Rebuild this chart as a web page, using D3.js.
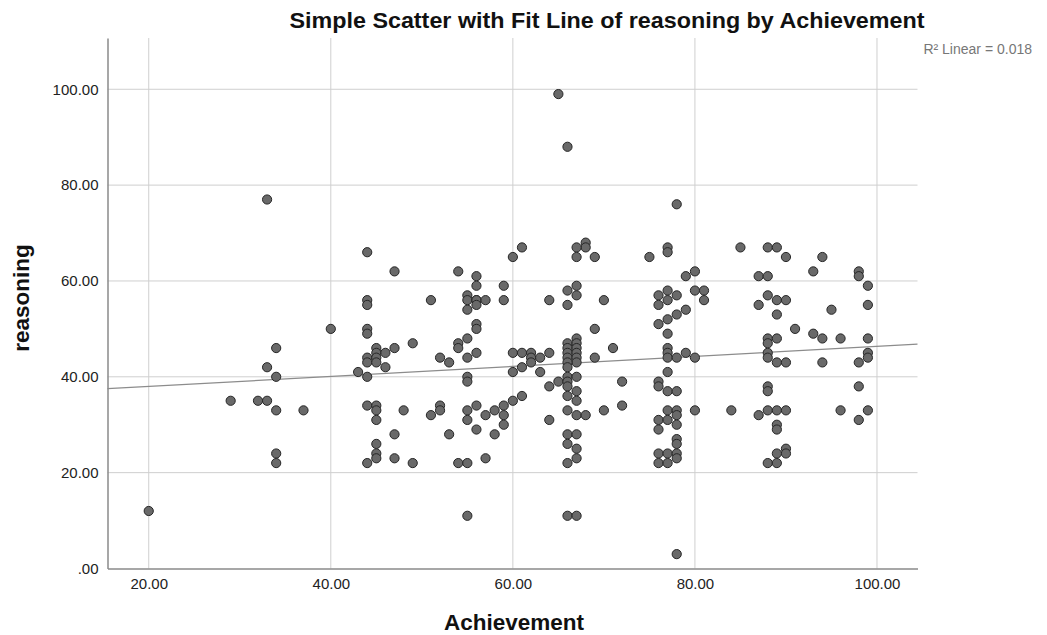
<!DOCTYPE html>
<html>
<head>
<meta charset="utf-8">
<script src="https://cdn.jsdelivr.net/npm/d3@7"></script>
<style>
  body { margin: 0; background: #fff; }
  svg { font-family: "Liberation Sans", Arial, sans-serif; }
</style>
</head>
<body>
<div class="scatter_chart"></div>
<script>
// values: [achievement, reasoning]
var points = [
  [20,12],[33,77],[40,50],[34,46],[33,42],[34,40],[29,35],[32,35],[33,35],[34,33],[37,33],[34,24],[34,22],
  [44,66],[47,62],[54,62],[44,56],[44,55],[51,56],[44,50],[44,49],[49,47],[54,47],[54,46],[45,46],[45,45],
  [47,46],[46,45],[44,44],[44,43],[45,44],[45,43],[52,44],[53,43],[46,42],[43,41],[44,40],[44,34],[45,34],
  [45,33],[48,33],[52,34],[52,33],[51,32],[45,31],[47,28],[53,28],[45,26],[45,24],[45,23],[44,22],[47,23],
  [49,22],[54,22],
  [61,67],[60,65],[56,61],[56,59],[59,59],[55,57],[55,56],[56,56],[56,56],[57,56],[59,56],[55,54],[56,55],
  [64,56],[56,51],[56,50],[55,48],[56,45],[55,44],[60,45],[61,45],[62,45],[64,45],[62,44],[63,44],[61,42],
  [62,43],[60,41],[63,41],[55,40],[55,39],[64,38],[65,39],[61,36],[60,35],[59,34],[58,33],[57,32],[56,34],
  [55,33],[59,32],[55,31],[59,30],[64,31],[56,29],[58,28],[57,23],[55,22],[55,11],
  [68,68],[68,67],[67,67],[67,65],[69,65],[75,65],[67,59],[66,58],[67,57],[66,55],[70,56],[69,50],[67,48],
  [66,47],[67,47],[66,46],[67,46],[66,45],[67,45],[66,44],[67,44],[71,46],[69,44],[67,43],[66,43],[66,42],
  [66,40],[67,40],[66,39],[66,38],[67,37],[66,36],[67,35],[72,39],[66,33],[67,32],[68,32],[70,33],[72,34],
  [66,28],[67,28],[66,26],[67,25],[67,23],[66,22],[66,11],[67,11],[65,99],[66,88],
  [77,67],[77,66],[85,67],[79,61],[80,62],[87,61],[88,61],[76,57],[77,58],[78,57],[76,55],[77,56],[80,58],
  [81,58],[81,56],[87,55],[79,54],[78,53],[77,52],[76,51],[77,49],[77,46],[77,45],[77,44],[78,44],[79,45],
  [80,44],[77,41],[76,39],[76,38],[77,37],[78,37],[77,33],[78,33],[78,32],[80,33],[84,33],[87,32],[76,31],
  [77,31],[78,30],[76,29],[78,27],[78,26],[76,24],[77,24],[78,24],[76,22],[77,22],[78,23],[78,3],[78,76],
  [88,67],[89,67],[90,65],[94,65],[93,62],[98,62],[98,61],[99,59],[88,57],[89,56],[90,56],[89,53],[95,54],
  [99,55],[91,50],[93,49],[94,48],[96,48],[99,48],[88,48],[88,47],[89,48],[88,45],[88,44],[89,43],[90,43],
  [94,43],[98,43],[99,45],[99,44],[88,38],[88,37],[98,38],[88,33],[89,33],[90,33],[96,33],[99,33],[98,31],
  [89,30],[89,29],[90,25],[90,24],[89,24],[88,22],[89,22]
];
var xTicks = [20, 40, 60, 80, 100];
var yTicks = [0, 20, 40, 60, 80, 100];
var xDomain = [15.47, 104.45];
var yDomain = [0, 110.7];
// linear fit
var fitIntercept = 35.9;
var fitSlope = 0.1045;
var r2Label = "R\u00b2 Linear = 0.018";
var titleText = "Simple Scatter with Fit Line of reasoning by Achievement";

function scatter_chart(data) {
  var W = 1047, H = 635;
  var left = 107.5, right = 917.5, top = 38, bottom = 568.5;

  var svg = d3.select(".scatter_chart")
    .append("svg")
    .attr("width", W)
    .attr("height", H);

  var x = d3.scaleLinear().domain(xDomain).range([left, right]);
  var y = d3.scaleLinear().domain(yDomain).range([bottom, top]);

  var fmt = function (d) {
    return d === 0 ? ".00" : d3.format(".2f")(d);
  };

  // grid lines
  svg.append("g")
    .selectAll("line")
    .data(yTicks.filter(function (d) { return d > 0; }))
    .enter()
    .append("line")
    .attr("x1", left).attr("x2", right)
    .attr("y1", function (d) { return y(d); })
    .attr("y2", function (d) { return y(d); })
    .style("stroke", "#cfcfcf")
    .style("stroke-width", "1px");

  svg.append("g")
    .selectAll("line")
    .data(xTicks)
    .enter()
    .append("line")
    .attr("y1", top).attr("y2", bottom)
    .attr("x1", function (d) { return x(d); })
    .attr("x2", function (d) { return x(d); })
    .style("stroke", "#cfcfcf")
    .style("stroke-width", "1px");

  // axes
  var xAxis = svg.append("g")
    .attr("transform", "translate(0," + bottom + ")")
    .call(d3.axisBottom(x).tickValues(xTicks).tickFormat(fmt).tickSize(0).tickPadding(10));
  var yAxis = svg.append("g")
    .attr("transform", "translate(" + left + ",0)")
    .call(d3.axisLeft(y).tickValues(yTicks).tickFormat(fmt).tickSize(0).tickPadding(9));

  [xAxis, yAxis].forEach(function (g) {
    g.select(".domain").style("stroke", "#8a8a8a").style("stroke-width", "1.5px");
    g.selectAll("text")
      .attr("font-size", "15px")
      .attr("font-family", "Liberation Sans, Arial, sans-serif")
      .attr("fill", "#222");
  });

  // fit line
  svg.append("line")
    .attr("x1", x(xDomain[0])).attr("y1", y(fitIntercept + fitSlope * xDomain[0]))
    .attr("x2", x(xDomain[1])).attr("y2", y(fitIntercept + fitSlope * xDomain[1]))
    .style("stroke", "#8c8c8c")
    .style("stroke-width", "1.2px");

  // dots
  svg.append("g")
    .selectAll("circle")
    .data(data)
    .enter()
    .append("circle")
    .attr("cx", function (d) { return x(d[0]); })
    .attr("cy", function (d) { return y(d[1]); })
    .attr("r", 4.6)
    .style("fill", "#696969")
    .style("stroke", "#262626")
    .style("stroke-width", "1px");

  // texts
  svg.append("text")
    .attr("x", 607).attr("y", 28)
    .attr("text-anchor", "middle")
    .attr("font-size", "22px")
    .attr("font-weight", "bold")
    .attr("textLength", 635)
    .attr("lengthAdjust", "spacingAndGlyphs")
    .attr("fill", "#111")
    .text(titleText);

  svg.append("text")
    .attr("x", 1032).attr("y", 54)
    .attr("text-anchor", "end")
    .attr("font-size", "14px")
    .attr("fill", "#777")
    .text(r2Label);

  svg.append("text")
    .attr("x", 514).attr("y", 630)
    .attr("text-anchor", "middle")
    .attr("font-size", "22.5px")
    .attr("font-weight", "bold")
    .attr("fill", "#111")
    .text("Achievement");

  svg.append("text")
    .attr("transform", "translate(29," + 298 + ") rotate(-90)")
    .attr("text-anchor", "middle")
    .attr("font-size", "22.5px")
    .attr("font-weight", "bold")
    .attr("fill", "#111")
    .text("reasoning");
}

scatter_chart(points);
</script>
</body>
</html>
